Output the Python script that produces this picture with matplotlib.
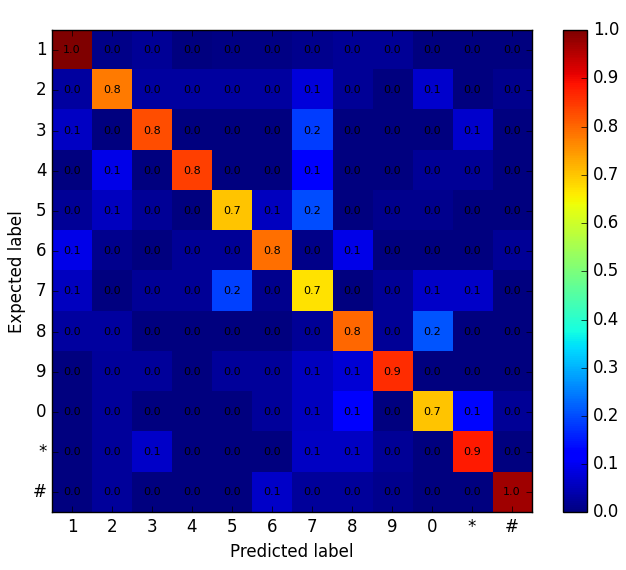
import numpy as np
import matplotlib
matplotlib.use("Agg")
import matplotlib.pyplot as plt

plt.style.use('classic')

labels = ['1', '2', '3', '4', '5', '6', '7', '8', '9', '0', '*', '#']

# normalized confusion matrix, rows = expected, cols = predicted
cm = np.array([
    [1.00, 0.010, 0.020, 0.000, 0.005, 0.005, 0.015, 0.020, 0.020, 0.000, 0.000, 0.003],
    [0.030, 0.78, 0.030, 0.030, 0.030, 0.030, 0.080, 0.020, 0.000, 0.070, 0.000, 0.015],
    [0.060, 0.000, 0.826, 0.003, 0.003, 0.003, 0.184, 0.000, 0.000, 0.000, 0.070, 0.000],
    [0.000, 0.090, 0.000, 0.84, 0.000, 0.000, 0.110, 0.003, 0.000, 0.020, 0.020, 0.000],
    [0.020, 0.055, 0.020, 0.000, 0.70, 0.055, 0.200, 0.000, 0.015, 0.015, 0.000, 0.003],
    [0.090, 0.015, 0.000, 0.020, 0.020, 0.79, 0.010, 0.090, 0.000, 0.003, 0.003, 0.020],
    [0.055, 0.000, 0.020, 0.020, 0.190, 0.015, 0.67, 0.000, 0.020, 0.065, 0.065, 0.000],
    [0.030, 0.030, 0.000, 0.000, 0.003, 0.000, 0.020, 0.80, 0.020, 0.210, 0.000, 0.000],
    [0.000, 0.025, 0.025, 0.000, 0.025, 0.025, 0.055, 0.075, 0.86, 0.000, 0.000, 0.000],
    [0.000, 0.025, 0.000, 0.000, 0.000, 0.025, 0.055, 0.110, 0.000, 0.70, 0.130, 0.020],
    [0.000, 0.025, 0.065, 0.000, 0.000, 0.000, 0.060, 0.060, 0.020, 0.000, 0.88, 0.003],
    [0.000, 0.025, 0.000, 0.000, 0.000, 0.065, 0.025, 0.025, 0.015, 0.000, 0.000, 0.97],
])

fig = plt.figure(figsize=(6.26, 5.70), dpi=100, facecolor='white')
ax = fig.add_axes([0.083, 0.101, 0.767, 0.846])
cax = fig.add_axes([0.899, 0.101, 0.039, 0.846])

im = ax.imshow(cm, interpolation='nearest', cmap='jet', vmin=0, vmax=1, aspect='auto')
cb = fig.colorbar(im, cax=cax)
cb.set_ticks(np.arange(0, 1.01, 0.1))

ax.set_xticks(range(len(labels)))
ax.set_yticks(range(len(labels)))
ax.set_xticklabels(labels)
ax.set_yticklabels(labels)
ax.set_xlim(-0.5, len(labels) - 0.5)
ax.set_ylim(len(labels) - 0.5, -0.5)

for i in range(cm.shape[0]):
    for j in range(cm.shape[1]):
        ax.text(j, i, '%.1f' % cm[i, j], ha='center', va='center', fontsize=8, color='black')

ax.set_xlabel('Predicted label')
ax.set_ylabel('Expected label')

fig.savefig('out.png', dpi=100, facecolor='white')
